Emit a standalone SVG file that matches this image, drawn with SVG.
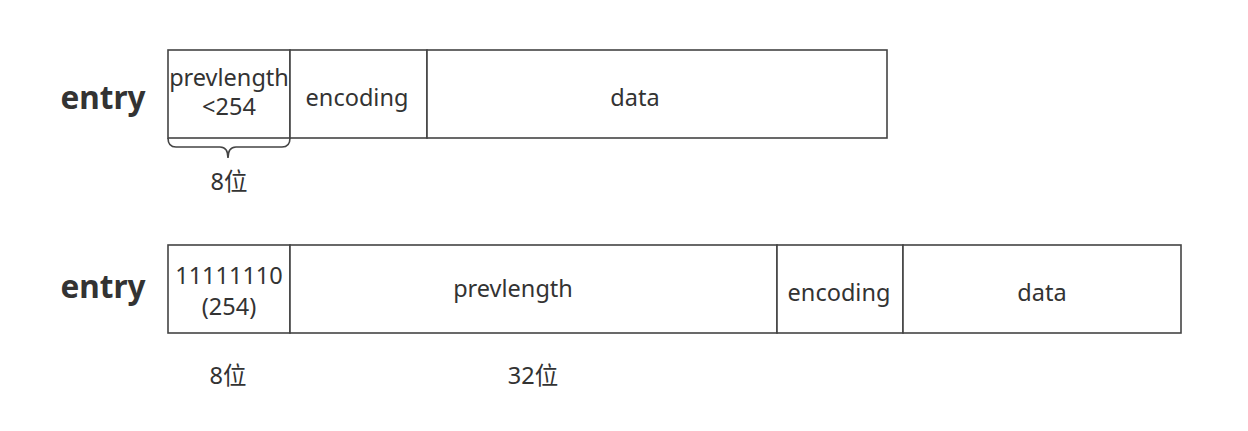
<svg xmlns="http://www.w3.org/2000/svg" width="1248" height="431" viewBox="0 0 1248 431">
  <style>
    .cell { fill: #ffffff; stroke: #444444; stroke-width: 1.6; }
    .t { font-family: "Noto Sans", "Noto Sans CJK SC", sans-serif; font-size: 23.5px; fill: #333333; text-anchor: middle; }
    .lbl { font-family: "Noto Sans", "Noto Sans CJK SC", sans-serif; font-size: 31.5px; font-weight: bold; fill: #333333; text-anchor: middle; }
    .brace { fill: none; stroke: #444444; stroke-width: 1.6; }
  </style>
  <rect width="1248" height="431" fill="#ffffff"/>

  <!-- first layout: prevlength < 254 -->
  <text class="lbl" x="103" y="109">entry</text>
  <g id="row1-prevlength">
    <rect class="cell" x="168" y="50" width="122" height="88"/>
    <text class="t" x="229" y="86">prevlength</text>
    <text class="t" x="229" y="115">&lt;254</text>
  </g>
  <g id="row1-encoding">
    <rect class="cell" x="290" y="50" width="137" height="88"/>
    <text class="t" x="357" y="106">encoding</text>
  </g>
  <g id="row1-data">
    <rect class="cell" x="427" y="50" width="460" height="88"/>
    <text class="t" x="635" y="106">data</text>
  </g>
  <g id="row1-brace">
    <path class="brace" d="M168,138 Q168,147 176,147 L220,147 Q228,147 228,158 Q228,147 236,147 L282,147 Q290,147 290,138"/>
    <text class="t" x="229" y="190">8位</text>
  </g>

  <!-- second layout: prevlength >= 254 -->
  <text class="lbl" x="103" y="298">entry</text>
  <g id="row2-flag">
    <rect class="cell" x="168" y="245" width="122" height="88"/>
    <text class="t" x="229" y="284">11111110</text>
    <text class="t" x="229" y="315">(254)</text>
  </g>
  <g id="row2-prevlength">
    <rect class="cell" x="290" y="245" width="487" height="88"/>
    <text class="t" x="513" y="297">prevlength</text>
  </g>
  <g id="row2-encoding">
    <rect class="cell" x="777" y="245" width="126" height="88"/>
    <text class="t" x="839" y="301">encoding</text>
  </g>
  <g id="row2-data">
    <rect class="cell" x="903" y="245" width="278" height="88"/>
    <text class="t" x="1042" y="301">data</text>
  </g>
  <text class="t" x="228" y="384">8位</text>
  <text class="t" x="533" y="384">32位</text>
</svg>
